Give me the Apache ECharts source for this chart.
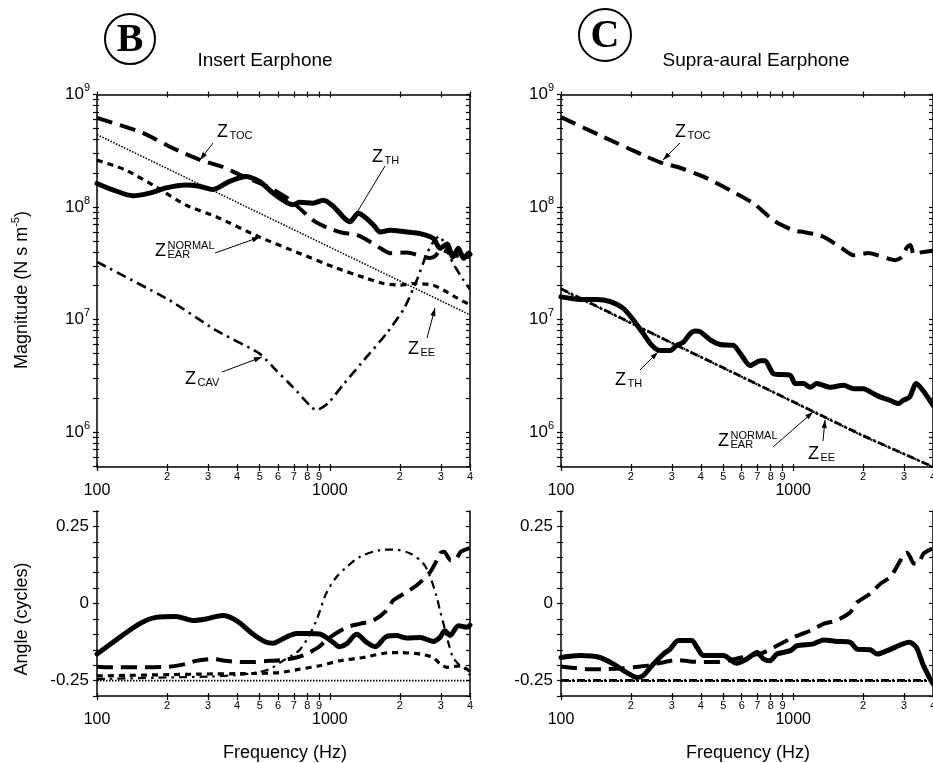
<!DOCTYPE html>
<html><head><meta charset="utf-8">
<script src="https://cdn.jsdelivr.net/npm/echarts@6/dist/echarts.min.js"></script>
<style>html,body{margin:0;padding:0;background:#fff}#c{width:933px;height:763px}</style>
</head><body><div id="c"></div>
<script>
// ---------- axis ticks / labels ----------
const freqMin = 100, freqMax = 4000;
const magMin = 4.89e5, magMax = 1e9;
const angleMin = -0.3, angleMax = 0.3;
const xTickFreqs = [100,200,300,400,500,600,700,800,900,1000,2000,3000,4000];
const xMinorLabelFreqs = [200,300,400,500,600,700,800,900,2000,3000,4000];
const xMajorLabelFreqs = [100,1000];
const magTicks = [5e5,6e5,7e5,8e5,9e5,1e6,2e6,3e6,4e6,5e6,6e6,7e6,8e6,9e6,1e7,2e7,3e7,4e7,5e7,6e7,7e7,8e7,9e7,1e8,2e8,3e8,4e8,5e8,6e8,7e8,8e8,9e8,1e9];
const magLabelTicks = [1e6,1e7,1e8,1e9];
const angleTicks = [-0.3,-0.25,-0.2,-0.15,-0.1,-0.05,0,0.05,0.1,0.15,0.2,0.25,0.3];
const angleLabelTicks = [-0.25,0,0.25];

// ---------- Panel B: insert earphone, magnitude [Hz, N s m^-5] ----------
const bTH = [[100,1.62e8],[116,1.43e8],[142,1.26e8],[168,1.33e8],[198,1.48e8],[241,1.57e8],[275,1.53e8],[314,1.43e8],[371,1.69e8],[437,1.87e8],[499,1.69e8],[570,1.33e8],[651,1.10e8],[695,1.05e8],[743,1.10e8],[848,1.08e8],[936,1.15e8],[1033,1.02e8],[1150,8.0e7],[1220,7.4e7],[1325,8.8e7],[1439,7.9e7],[1550,6.8e7],[1643,6.0e7],[1815,6.2e7],[2142,6.0e7],[2444,5.8e7],[2784,5.25e7],[2972,4.3e7],[3184,4.7e7],[3380,3.6e7],[3565,4.3e7],[3758,3.5e7],[3960,3.9e7],[4000,3.8e7]];
const bTOC = [[100,6.2e8],[157,4.56e8],[211,3.35e8],[275,2.64e8],[347,2.27e8],[409,1.94e8],[551,1.49e8],[673,1.16e8],[780,8.85e7],[862,7.45e7],[983,6.5e7],[1123,5.94e7],[1304,5.66e7],[1439,5.12e7],[1643,4.32e7],[1815,3.89e7],[2142,3.94e7],[2698,3.52e7],[2850,3.7e7],[3000,4.2e7],[3200,4.0e7],[3500,3.7e7],[4000,3.6e7]];
const bEAR = [[100,2.61e8],[133,2.13e8],[179,1.51e8],[241,1.04e8],[325,8.2e7],[499,5.4e7],[743,3.87e7],[1033,2.94e7],[1439,2.32e7],[1698,2.09e7],[2004,2.02e7],[2287,2.09e7],[2780,2.02e7],[3193,1.75e7],[3530,1.55e7],[4000,1.35e7]];
const bEE = [[100,4.4e8],[200,2.2e8],[500,8.8e7],[1000,4.4e7],[2000,2.2e7],[4000,1.1e7]];
const bCAV = [[100,3.25e7],[204,1.49e7],[325,8.0e6],[499,4.98e6],[588,3.54e6],[694,2.51e6],[820,1.73e6],[876,1.56e6],[983,1.8e6],[1140,2.63e6],[1439,4.65e6],[1751,7.5e6],[2083,1.25e7],[2364,2.24e7],[2612,3.87e7],[2800,5.0e7],[2950,5.5e7],[3100,4.8e7],[3300,3.5e7],[3458,2.92e7],[3750,2.24e7],[4000,1.85e7]];

// ---------- Panel B: angle [Hz, cycles] ----------
const bTHang = [[100,-0.164],[120,-0.12],[152,-0.066],[179,-0.045],[218,-0.042],[258,-0.055],[294,-0.05],[347,-0.039],[396,-0.055],[467,-0.099],[530,-0.125],[570,-0.129],[609,-0.12],[672,-0.104],[719,-0.097],[820,-0.097],[905,-0.099],[1033,-0.126],[1100,-0.14],[1180,-0.131],[1304,-0.10],[1439,-0.126],[1565,-0.14],[1751,-0.107],[1930,-0.104],[2142,-0.112],[2444,-0.11],[2784,-0.123],[2972,-0.11],[3119,-0.088],[3285,-0.104],[3565,-0.072],[3888,-0.077],[4000,-0.07]];
const bTOCang = [[100,-0.205],[113,-0.207],[157,-0.207],[204,-0.205],[241,-0.196],[266,-0.186],[314,-0.18],[358,-0.186],[409,-0.19],[467,-0.19],[551,-0.186],[628,-0.183],[719,-0.175],[795,-0.164],[900,-0.14],[1000,-0.11],[1180,-0.077],[1344,-0.066],[1538,-0.055],[1751,-0.023],[1870,0.01],[2083,0.032],[2364,0.059],[2698,0.102],[2880,0.14],[3000,0.165],[3100,0.168],[3300,0.14],[3450,0.14],[3650,0.168],[4000,0.18]];
const bEARang = [[100,-0.235],[275,-0.229],[467,-0.227],[609,-0.224],[743,-0.213],[905,-0.202],[1100,-0.186],[1393,-0.175],[1815,-0.159],[2004,-0.159],[2444,-0.164],[2784,-0.175],[2972,-0.196],[3184,-0.207],[3640,-0.202],[4000,-0.22]];
const bEEang = [[100,-0.25],[1000,-0.25],[4000,-0.25]];
const bCAVang = [[100,-0.245],[200,-0.24],[300,-0.237],[400,-0.232],[500,-0.222],[560,-0.21],[628,-0.186],[700,-0.165],[743,-0.15],[800,-0.115],[876,-0.055],[964,0.032],[1068,0.086],[1180,0.118],[1344,0.151],[1643,0.173],[1870,0.175],[2213,0.162],[2526,0.129],[2698,0.086],[2880,0.021],[2972,-0.023],[3079,-0.066],[3240,-0.131],[3383,-0.175],[3565,-0.196],[3758,-0.207],[3960,-0.229],[4000,-0.232]];

// ---------- Panel C: supra-aural earphone, magnitude ----------
const cTH = [[100,1.59e7],[121,1.51e7],[143,1.51e7],[163,1.44e7],[186,1.25e7],[205,9.9e6],[226,7.5e6],[246,5.9e6],[267,5.3e6],[295,5.3e6],[315,5.9e6],[337,6.3e6],[360,7.5e6],[378,7.9e6],[397,7.8e6],[439,6.6e6],[484,6.0e6],[553,5.9e6],[591,5.0e6],[653,3.9e6],[721,4.3e6],[757,4.3e6],[823,3.3e6],[970,3.2e6],[1020,2.7e6],[1107,2.7e6],[1183,2.5e6],[1266,2.7e6],[1443,2.5e6],[1648,2.6e6],[1818,2.43e6],[2010,2.43e6],[2152,2.27e6],[2372,2.05e6],[2613,1.91e6],[2836,1.79e6],[2974,1.91e6],[3174,2.05e6],[3387,2.7e6],[3615,2.35e6],[4000,1.73e6]];
const cTOC = [[100,6.3e8],[152,4.2e8],[234,2.8e8],[276,2.44e8],[315,2.28e8],[411,1.86e8],[535,1.41e8],[674,1.08e8],[823,7.6e7],[1003,6.2e7],[1107,6.0e7],[1306,5.6e7],[1396,5.25e7],[1622,4.3e7],[1820,3.73e7],[2105,3.9e7],[2752,3.37e7],[2942,3.6e7],[3092,4.4e7],[3200,4.6e7],[3300,3.8e7],[3415,3.9e7],[3707,4.0e7],[4000,4.1e7]];
const cEAR = [[100,1.88e7],[300,6.2e6],[1000,1.86e6],[2000,9.3e5],[4000,4.9e5]];
const cEE = [[100,1.85e7],[300,6.2e6],[1000,1.85e6],[2000,9.2e5],[4000,4.9e5]];

// ---------- Panel C: angle ----------
const cTHang = [[100,-0.175],[121,-0.169],[147,-0.175],[168,-0.196],[192,-0.224],[212,-0.24],[226,-0.234],[250,-0.196],[276,-0.164],[295,-0.148],[320,-0.12],[366,-0.12],[385,-0.142],[411,-0.169],[500,-0.169],[571,-0.194],[632,-0.18],[699,-0.159],[745,-0.18],[795,-0.186],[851,-0.164],[973,-0.153],[1038,-0.137],[1222,-0.131],[1350,-0.118],[1540,-0.123],[1762,-0.126],[1885,-0.148],[2149,-0.15],[2300,-0.164],[2540,-0.153],[2970,-0.131],[3171,-0.126],[3390,-0.142],[3615,-0.196],[3890,-0.245],[4000,-0.26]];
const cTOCang = [[100,-0.204],[133,-0.213],[152,-0.213],[186,-0.21],[205,-0.207],[242,-0.2],[315,-0.183],[360,-0.188],[411,-0.19],[470,-0.19],[600,-0.175],[745,-0.159],[851,-0.137],[1000,-0.11],[1185,-0.088],[1350,-0.066],[1540,-0.055],[1762,-0.028],[1885,0.004],[2150,0.032],[2374,0.064],[2623,0.086],[2898,0.14],[2995,0.162],[3100,0.165],[3300,0.13],[3450,0.129],[3640,0.162],[4000,0.18]];
const cEARang = [[100,-0.249],[1000,-0.249],[4000,-0.249]];
const cEEang = [[100,-0.251],[1000,-0.251],[4000,-0.251]];

// ---------- build ----------
const FONT = '"Liberation Sans", Arial, Helvetica, sans-serif';
const SERIF = '"Liberation Serif", "DejaVu Serif", serif';
const L = Math.log10;
const BLACK = '#000';

const grids = [
  {left:97, top:94.5, width:373, height:372.5},
  {left:561, top:94.5, width:372, height:372.5},
  {left:97, top:511, width:373, height:185},
  {left:561, top:511, width:372, height:185}
].map(g => Object.assign({outerBoundsMode:'none', containLabel:false, show:false}, g));

const xAxes = [], yAxes = [];
const mainX = [], mainY = [];
const lineOn = {show:true, onZero:false, lineStyle:{color:BLACK, width:1.5}};
const lineOff = {show:false, onZero:false};
function tickStyle(len, inside, vals){ return {show:true, inside:inside, length:len, customValues:vals, lineStyle:{color:BLACK, width:1.2}}; }
const noLabel = {show:false};

function digitFmt(v){ const e = Math.floor(v + 1e-9); return String(Math.round(Math.pow(10, v - e))); }
function fullFmt(v){ return String(Math.round(Math.pow(10, v))); }

grids.forEach((g, gi) => {
  const isMag = gi < 2;
  const xBase = {type:'value', gridIndex:gi, min:L(freqMin), max:L(freqMax), splitLine:{show:false}, axisPointer:{show:false}};
  const xt = xTickFreqs.map(L);
  mainX[gi] = xAxes.length;
  xAxes.push(Object.assign({}, xBase, {position:'bottom', axisLine:lineOn, axisTick:tickStyle(4,false,xt),
    axisLabel:{show:true, customValues:xMinorLabelFreqs.map(L), formatter:digitFmt, fontSize:11, margin:4, color:BLACK, fontFamily:FONT}}));
  xAxes.push(Object.assign({}, xBase, {position:'bottom', axisLine:lineOff, axisTick:tickStyle(3,true,xt),
    axisLabel:{show:true, customValues:xMajorLabelFreqs.map(L), formatter:fullFmt, fontSize:16, margin:16, color:BLACK, fontFamily:FONT}}));
  if (isMag) {
    xAxes.push(Object.assign({}, xBase, {position:'top', axisLine:lineOn, axisTick:tickStyle(3,false,xt), axisLabel:noLabel}));
    xAxes.push(Object.assign({}, xBase, {position:'top', axisLine:lineOff, axisTick:tickStyle(3,true,xt), axisLabel:noLabel}));
  }
  let yBase, yt, yLab;
  if (isMag) {
    yBase = {type:'value', gridIndex:gi, min:L(magMin), max:L(magMax), splitLine:{show:false}, axisPointer:{show:false}};
    yt = magTicks.map(L);
    yLab = {show:true, customValues:magLabelTicks.map(L), margin:7, color:BLACK, fontFamily:FONT,
      formatter: v => '{b|10}{s|' + Math.round(v) + '}',
      rich:{ b:{fontSize:17, fontFamily:FONT, color:BLACK, lineHeight:24, verticalAlign:'middle'},
             s:{fontSize:11, fontFamily:FONT, color:BLACK, lineHeight:14, verticalAlign:'top'} } };
  } else {
    yBase = {type:'value', gridIndex:gi, min:angleMin, max:angleMax, splitLine:{show:false}, axisPointer:{show:false}};
    yt = angleTicks;
    yLab = {show:true, customValues:angleLabelTicks, margin:8, fontSize:17, color:BLACK, fontFamily:FONT,
      formatter: v => Math.abs(v) < 1e-9 ? '0' : v.toFixed(2)};
  }
  mainY[gi] = yAxes.length;
  yAxes.push(Object.assign({}, yBase, {position:'left', axisLine:lineOn, axisTick:tickStyle(4,false,yt), axisLabel:yLab}));
  yAxes.push(Object.assign({}, yBase, {position:'left', axisLine:lineOff, axisTick:tickStyle(2,true,yt), axisLabel:noLabel}));
  yAxes.push(Object.assign({}, yBase, {position:'right', axisLine:lineOn, axisTick:tickStyle(4,true,yt), axisLabel:noLabel}));
});

const ST = {
  TH:  {color:BLACK, width:5, type:'solid', cap:'round', join:'round'},
  TOC: {color:BLACK, width:4, type:[16,8], cap:'butt', join:'round'},
  EAR: {color:BLACK, width:3.2, type:[6,5], cap:'butt'},
  EE:  {color:BLACK, width:1.6, type:[1.5,1.5], cap:'butt'},
  CAV: {color:BLACK, width:2.6, type:[10,5,2.5,5], cap:'butt'},
  CAVa:{color:BLACK, width:2.2, type:[8,5,2.5,5], cap:'butt'},
  EEC: {color:BLACK, width:2, type:[2,2], cap:'butt'},
  EARC:{color:BLACK, width:2.8, type:[8,3,2,3], cap:'butt'}
};
function ser(data, gi, style, smooth){
  const isMag = gi < 2;
  return {type:'line', xAxisIndex:mainX[gi], yAxisIndex:mainY[gi],
    data: data.map(p => [L(p[0]), isMag ? L(p[1]) : p[1]]),
    showSymbol:false, symbol:'none', silent:true, clip:true, smooth: smooth || 0,
    lineStyle: style, animation:false};
}
const series = [
  ser(bEE, 0, ST.EE), ser(bCAV, 0, ST.CAV, 0.2), ser(bEAR, 0, ST.EAR, 0.2), ser(bTOC, 0, ST.TOC, 0.2), ser(bTH, 0, ST.TH, 0.25),
  ser(cEE, 1, ST.EEC), ser(cEAR, 1, ST.EARC), ser(cTOC, 1, ST.TOC, 0.2), ser(cTH, 1, ST.TH, 0.25),
  ser(bEEang, 2, ST.EE), ser(bCAVang, 2, ST.CAVa, 0.3), ser(bEARang, 2, ST.EAR, 0.2), ser(bTOCang, 2, ST.TOC, 0.2), ser(bTHang, 2, ST.TH, 0.3),
  ser(cEEang, 3, ST.EEC), ser(cEARang, 3, ST.EARC), ser(cTOCang, 3, ST.TOC, 0.2), ser(cTHang, 3, ST.TH, 0.25)
];

// ---------- annotations (pixel layout) ----------
const graphic = [];
function txt(x, y, text, size, opts){
  graphic.push({type:'text', x:x, y:y, silent:true, z:100, style:Object.assign({text:text, fill:BLACK,
    font: size + 'px ' + FONT, align:'left', verticalAlign:'middle'}, opts || {})});
}
function zLabel(x, yb, sub, sup){
  txt(x, yb - 6, 'Z', 18);
  if (sub) txt(x + 12.5, yb - 2, sub, 11);
  if (sup) txt(x + 12.5, yb - 11, sup, 11);
}
function arrow(x1, y1, x2, y2, head){
  graphic.push({type:'line', silent:true, z:100, shape:{x1:x1, y1:y1, x2:x2, y2:y2}, style:{stroke:BLACK, lineWidth:1}});
  if (head) {
    const dx = x2 - x1, dy = y2 - y1, d = Math.hypot(dx, dy), ux = dx / d, uy = dy / d;
    const bx = x2 - ux * 8, by = y2 - uy * 8;
    graphic.push({type:'polygon', silent:true, z:100, shape:{points:[[x2,y2],[bx - uy*2.6, by + ux*2.6],[bx + uy*2.6, by - ux*2.6]]}, style:{fill:BLACK}});
  }
}
// circled panel letters and titles
graphic.push({type:'circle', silent:true, shape:{cx:130, cy:39, r:25}, style:{fill:'none', stroke:BLACK, lineWidth:2}});
txt(130, 41, 'B', 40, {font:'bold 40px ' + SERIF, align:'center'});
graphic.push({type:'circle', silent:true, shape:{cx:605, cy:35, r:26}, style:{fill:'none', stroke:BLACK, lineWidth:2}});
txt(605, 37, 'C', 40, {font:'bold 40px ' + SERIF, align:'center'});
txt(265, 61, 'Insert Earphone', 19, {align:'center'});
txt(756, 61, 'Supra-aural Earphone', 19, {align:'center'});
// axis titles
graphic.push({type:'text', x:22, y:290, rotation:Math.PI/2, silent:true, style:{
  text:'{a|Magnitude (N s m}{s|-5}{a|)}', align:'center', verticalAlign:'middle',
  rich:{a:{fontSize:18, fontFamily:FONT, fill:BLACK, lineHeight:24, verticalAlign:'middle'}, s:{fontSize:11, fontFamily:FONT, fill:BLACK, lineHeight:14, verticalAlign:'top'}}}});
txt(22, 619, 'Angle (cycles)', 18, {align:'center'});
graphic[graphic.length-1].rotation = Math.PI/2;
txt(285, 753, 'Frequency (Hz)', 18, {align:'center'});
txt(748, 753, 'Frequency (Hz)', 18, {align:'center'});

// panel B labels
zLabel(217, 138, 'TOC');           arrow(213, 143, 200, 160, true);
zLabel(372, 163, 'TH');            arrow(385, 166, 356, 214, false);
zLabel(155, 257, 'EAR', 'NORMAL'); arrow(215, 253, 260, 237, true);
zLabel(185, 385, 'CAV');           arrow(222, 372, 262, 357, true);
zLabel(408, 355, 'EE');            arrow(427, 338, 435, 308, true);
// panel C labels
zLabel(675, 138, 'TOC');           arrow(680, 143, 663, 160, true);
zLabel(615, 386, 'TH');            arrow(640, 370, 658, 352, true);
zLabel(718, 447, 'EAR', 'NORMAL'); arrow(773, 447, 813, 412, true);
zLabel(808, 460, 'EE');            arrow(823, 441, 825, 420, true);

const option = {
  backgroundColor:'#fff', animation:false,
  grid: grids, xAxis: xAxes, yAxis: yAxes, series: series, graphic: graphic
};
const chart = echarts.init(document.getElementById('c'), null, {renderer:'canvas'});
chart.setOption(option);
</script>
</body></html>
